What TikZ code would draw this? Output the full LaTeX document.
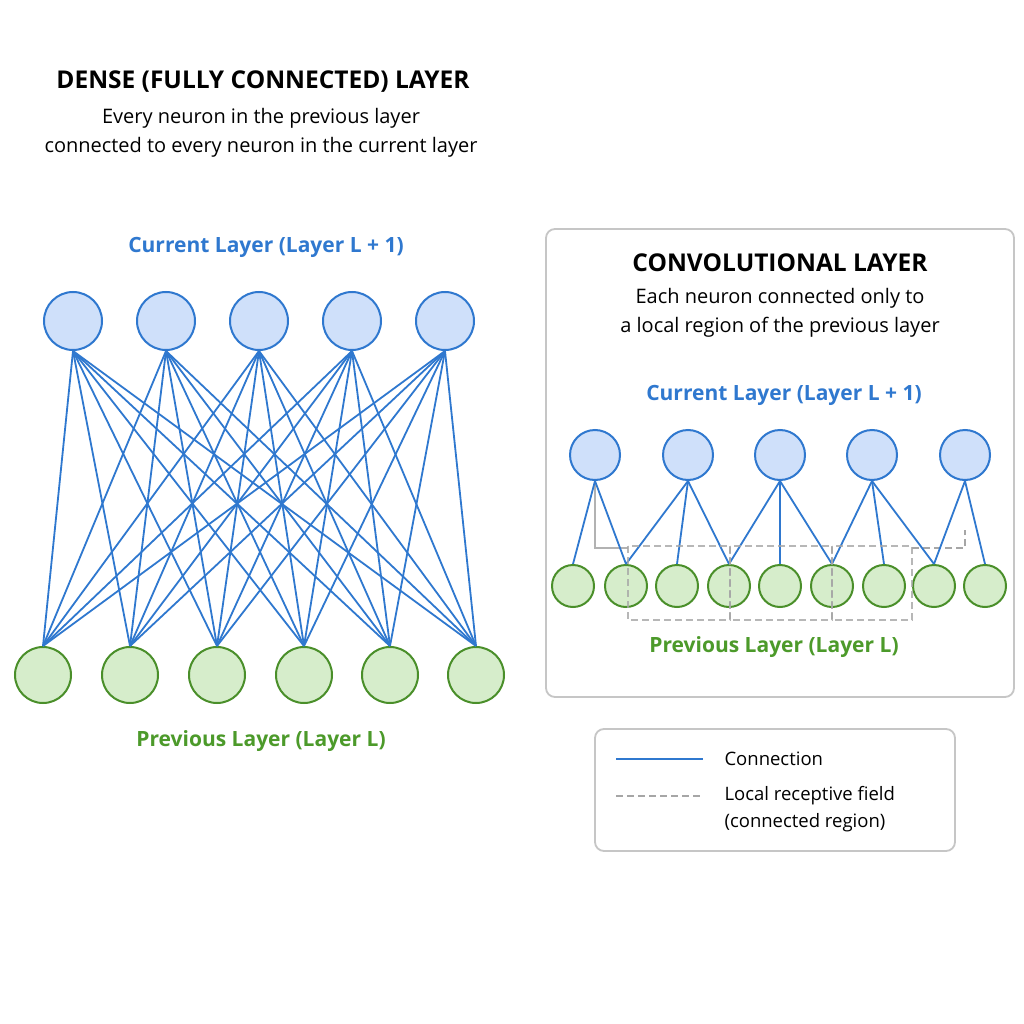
\documentclass[tikz,border=0pt]{standalone}
\usepackage{fontspec}
\setmainfont{Open Sans}
\definecolor{cblue}{HTML}{2F78CF}
\definecolor{fblue}{HTML}{CFE0FA}
\definecolor{cgreen}{HTML}{4A8F2A}
\definecolor{fgreen}{HTML}{D6EDCB}
\definecolor{tgreen}{HTML}{4C9A2A}
\begin{document}
\begin{tikzpicture}[x=1pt,y=-1pt,
 topn/.style={circle,draw=cblue,fill=fblue,line width=2pt,minimum size=#1,inner sep=0},
 botn/.style={circle,draw=cgreen,fill=fgreen,line width=2pt,minimum size=#1,inner sep=0},
 conn/.style={cblue,line width=1.8pt},
 rf/.style={gray!70,line width=1.8pt,dash pattern=on 7pt off 4pt},
 panel/.style={draw=gray!45,line width=1.8pt,rounded corners=9pt},
 ttl/.style={font=\fontsize{24.5}{28}\selectfont\bfseries},
 sub/.style={align=center,font=\fontsize{20}{29}\selectfont},
 lab/.style={font=\fontsize{21}{25}\selectfont\bfseries}]
\useasboundingbox (0,0) rectangle (1024,1024);
\fill[white] (0,0) rectangle (1024,1024);
% Dense
\node[ttl] (t1) at (263,82) {DENSE (FULLY CONNECTED) LAYER};
\node[sub] (t2) at (261,133) {Every neuron in the previous layer\\connected to every neuron in the current layer};
\node[lab,text=cblue] (cl1) at (266,247) {Current Layer (Layer L + 1)};
\node[lab,text=tgreen] (pl1) at (261,741) {Previous Layer (Layer L)};
\foreach \i/\x in {1/73,2/166,3/259,4/352,5/445} \node[topn=58pt] (a\i) at (\x,321) {};
\foreach \j/\x in {1/43,2/130,3/217,4/304,5/390,6/476} \node[botn=56pt] (b\j) at (\x,675) {};
\foreach \i in {1,...,5} \foreach \j in {1,...,6} \draw[conn] (a\i.south) -- (b\j.north);
% Conv panel
\draw[panel] (546,229) rectangle (1014,697);
\node[ttl] (ct) at (780,263) {CONVOLUTIONAL LAYER};
\node[sub] (cs) at (780,313) {Each neuron connected only to\\a local region of the previous layer};
\node[lab,text=cblue] (cl2) at (784,395) {Current Layer (Layer L + 1)};
\node[lab,text=tgreen] (pl2) at (774,647) {Previous Layer (Layer L)};
\draw[gray!60,line width=1.6pt] (595,470) -- (595,548) -- (628,548);
\draw[rf] (912,548) -- (965,548) -- (965,530);
\foreach \i/\x in {1/595,2/688,3/780,4/872,5/965} \node[topn=50pt] (c\i) at (\x,455) {};
\foreach \j/\x in {1/573,2/626,3/677,4/729,5/780,6/832,7/884,8/934,9/985} \node[botn=42pt] (d\j) at (\x,586) {};
\foreach \i/\js in {1/{1,2},2/{2,3,4},3/{4,5,6},4/{6,7,8},5/{8,9}}
  \foreach \j in \js \draw[conn] (c\i.south) -- (d\j.north);
\draw[rf,opacity=0.8] (628,546) rectangle (730,620);
\draw[rf,opacity=0.8] (730,546) rectangle (832,620);
\draw[rf,opacity=0.8] (832,546) rectangle (912,620);
% Legend
\draw[panel] (595,729) rectangle (955,851);
\coordinate (l1a) at (616,759); \coordinate (l1b) at (703,759);
\coordinate (l2a) at (616,796); \coordinate (l2b) at (703,796);
\draw[conn,line width=2.2pt] (l1a) -- (l1b);
\draw[rf] (l2a) -- (l2b);
\node[anchor=west,font=\fontsize{18.5}{22}\selectfont] (lt1) at (721,759) {Connection};
\node[anchor=west,align=left,font=\fontsize{18.5}{27}\selectfont] (lt2) at (721,809) {Local receptive field\\(connected region)};
\end{tikzpicture}
\end{document}
